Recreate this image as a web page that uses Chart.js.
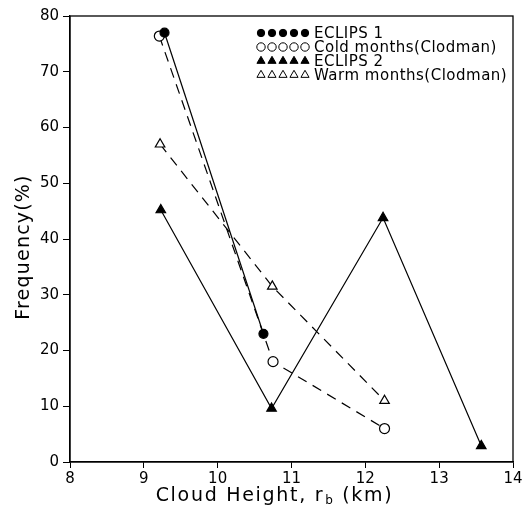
<!DOCTYPE html>
<html><head><meta charset="utf-8">
<script src="https://cdn.jsdelivr.net/npm/chart.js@4/dist/chart.umd.min.js"></script>
<style>html,body{margin:0;padding:0;background:#fff}#wrap{width:523px;height:514px}</style>
</head><body><div id="wrap"><canvas id="c" width="523" height="514"></canvas></div>
<script>
const seriesNames = ["ECLIPS 1", "Cold months(Clodman)", "ECLIPS 2", "Warm months(Clodman)"];
const eclips1X = [9.28, 10.62];
const eclips1Y = [77, 23];
const coldX = [9.21, 10.75, 12.26];
const coldY = [76.4, 18, 6];
const eclips2X = [9.23, 10.73, 12.24, 13.57];
const eclips2Y = [45.2, 9.6, 43.8, 2.9];
const warmX = [9.22, 10.74, 12.26];
const warmY = [57, 31.5, 11];
const xTicks = [8, 9, 10, 11, 12, 13, 14];
const yTicks = [0, 10, 20, 30, 40, 50, 60, 70, 80];

const pts = (xs, ys) => xs.map((x, i) => ({x: x, y: ys[i]}));
const FONT = "'DejaVu Sans', sans-serif";

const styles = [
  {pointStyle: 'circle', radius: 4.5, fill: '#000', dash: []},
  {pointStyle: 'circle', radius: 5, fill: '#fff', dash: [10, 7]},
  {pointStyle: 'triangle', radius: 5.5, fill: '#000', dash: []},
  {pointStyle: 'triangle', radius: 5.5, fill: '#fff', dash: [10, 7]}
];
const dataSets = [pts(eclips1X, eclips1Y), pts(coldX, coldY), pts(eclips2X, eclips2Y), pts(warmX, warmY)];

const datasets = dataSets.map((d, i) => ({
  label: seriesNames[i],
  data: d,
  showLine: true,
  borderColor: '#000',
  borderWidth: 1.2,
  borderDash: styles[i].dash,
  pointStyle: styles[i].pointStyle,
  pointRadius: styles[i].radius,
  pointBackgroundColor: styles[i].fill,
  pointBorderColor: '#000',
  pointBorderWidth: 1.2,
  fill: false
}));

const decor = {
  id: 'decor',
  afterDraw(chart) {
    const ctx = chart.ctx, a = chart.chartArea;
    ctx.save();
    ctx.strokeStyle = '#000'; ctx.lineWidth = 1.3; ctx.setLineDash([]);
    ctx.strokeRect(a.left, a.top, a.right - a.left, a.bottom - a.top);
    // legend
    const lx0 = 261, step = 11, tx = 314;
    const ly = [33, 47, 61, 75];
    ctx.font = "15px " + FONT;
    ctx.letterSpacing = '0.5px';
    ctx.textBaseline = 'middle'; ctx.textAlign = 'left';
    for (let i = 0; i < 4; i++) {
      const s = styles[i];
      ctx.strokeStyle = '#000'; ctx.lineWidth = 1;
      for (let k = 0; k < 5; k++) {
        ctx.fillStyle = s.fill;
        Chart.helpers.drawPoint(ctx, {pointStyle: s.pointStyle, radius: s.radius - 0.8, rotation: 0, borderWidth: 1}, lx0 + k * step, ly[i]);
      }
      ctx.fillStyle = '#000';
      ctx.fillText(seriesNames[i], tx, ly[i] + 1);
    }
    // y title
    ctx.save();
    ctx.translate(24, 247);
    ctx.rotate(-Math.PI / 2);
    ctx.textAlign = 'center';
    ctx.font = "19px " + FONT;
    ctx.letterSpacing = '1.2px';
    ctx.fillText("Frequency(%)", 0, 0);
    ctx.restore();
    // x title with subscript
    const p1 = "Cloud Height, r", p2 = "b", p3 = " (km)";
    ctx.letterSpacing = '1.7px';
    ctx.font = "19px " + FONT;
    const w1 = ctx.measureText(p1).width, w3 = ctx.measureText(p3).width;
    ctx.font = "12px " + FONT;
    const w2 = ctx.measureText(p2).width;
    let x = 274 - (w1 + w2 + w3) / 2, y = 496;
    ctx.textAlign = 'left';
    ctx.font = "19px " + FONT; ctx.fillText(p1, x, y); x += w1;
    ctx.font = "12px " + FONT; ctx.fillText(p2, x + 1, y + 5); x += w2 + 1;
    ctx.font = "19px " + FONT; ctx.fillText(p3, x, y);
    ctx.restore();
  }
};

new Chart(document.getElementById('c'), {
  type: 'scatter',
  data: {datasets: datasets},
  options: {
    responsive: false,
    animation: false,
    layout: {padding: {top: 16, right: 10, left: 0, bottom: 0}},
    plugins: {legend: {display: false}, tooltip: {enabled: false}},
    scales: {
      x: {
        type: 'linear', min: 8, max: 14,
        afterBuildTicks: s => { s.ticks = xTicks.map(v => ({value: v})); },
        afterFit: s => { s.height = 52; s.paddingRight = 0; s.paddingLeft = 0; },
        grid: {drawOnChartArea: false, drawTicks: true, tickLength: 6, color: '#000', lineWidth: 1},
        border: {display: true, color: '#000', width: 1.3},
        ticks: {color: '#000', font: {family: FONT, size: 15}, padding: 2, maxRotation: 0}
      },
      y: {
        type: 'linear', min: 0, max: 80,
        afterBuildTicks: s => { s.ticks = yTicks.map(v => ({value: v})); },
        afterFit: s => { s.width = 70; s.paddingTop = 0; s.paddingBottom = 0; },
        grid: {drawOnChartArea: false, drawTicks: true, tickLength: 7, color: '#000', lineWidth: 1},
        border: {display: true, color: '#000', width: 1.3},
        ticks: {color: '#000', font: {family: FONT, size: 15}, padding: 4}
      }
    }
  },
  plugins: [decor]
});
</script></body></html>
